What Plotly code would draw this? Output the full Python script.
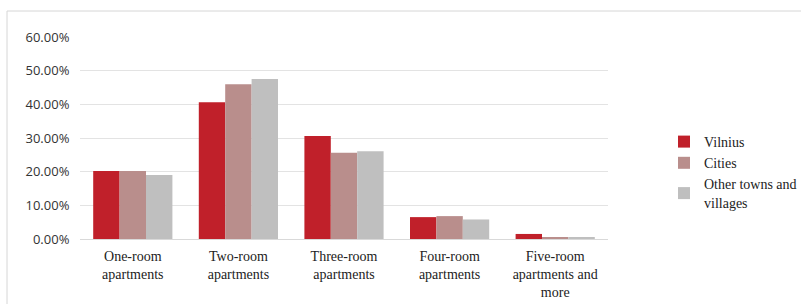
import plotly.graph_objects as go

categories = ["One-room<br>apartments", "Two-room<br>apartments", "Three-room<br>apartments",
              "Four-room<br>apartments", "Five-room<br>apartments and<br>more"]
series_names = ["Vilnius", "Cities", "Other towns and<br>villages"]
vilnius = [0.202, 0.406, 0.306, 0.065, 0.015]
cities = [0.202, 0.460, 0.256, 0.068, 0.005]
other = [0.190, 0.475, 0.261, 0.058, 0.006]
colors = ["#C0202A", "#B98E8C", "#BFBFBF"]

SERIF = "Liberation Serif"

fig = go.Figure()
for name, vals, c in zip(series_names, [vilnius, cities, other], colors):
    fig.add_trace(go.Bar(x=categories, y=vals, name=name, marker=dict(color=c, line=dict(width=0))))

L, R, T, B = 80, 193, 37, 65
W, H = 801, 304
pw = W - L - R
ph = H - T - B

def px(x):
    return (x - L) / pw

def py(y):
    return (H - B - y) / ph

fig.update_layout(
    width=W, height=H,
    margin=dict(l=L, r=R, t=T, b=B, pad=0, autoexpand=False),
    paper_bgcolor="white", plot_bgcolor="white",
    barmode="group", bargap=0.25, bargroupgap=0,
    showlegend=True,
    legend=dict(xref="container", yref="container", x=664 / W, y=1 - 172 / H,
                xanchor="left", yanchor="middle",
                font=dict(family=SERIF, size=14, color="#222"),
                tracegroupgap=0, itemwidth=30, bgcolor="rgba(0,0,0,0)"),
    xaxis=dict(showgrid=False, showline=True, linecolor="#D9D9D9", linewidth=1,
               ticks="outside", ticklen=4, tickcolor="rgba(255,255,255,0)",
               tickfont=dict(family=SERIF, size=14, color="#222")),
    yaxis=dict(range=[0, 0.6], dtick=0.1, tickformat=".2%", showgrid=True,
               gridcolor="#E3E3E3", gridwidth=1, zeroline=False, showline=False,
               tickfont=dict(family="Open Sans", size=13, color="#333"), ticklen=7,
               ticks="outside", tickcolor="rgba(255,255,255,0)"),
    shapes=[dict(type="rect", xref="paper", yref="paper",
                 x0=px(7), x1=px(830), y0=py(330), y1=py(11),
                 line=dict(color="#D6D6D6", width=1), layer="below")],
    font=dict(family=SERIF),
)

fig.write_html("out.html", config={"displayModeBar": False},
               post_script="document.body.style.margin='0';document.body.style.overflow='hidden';")
